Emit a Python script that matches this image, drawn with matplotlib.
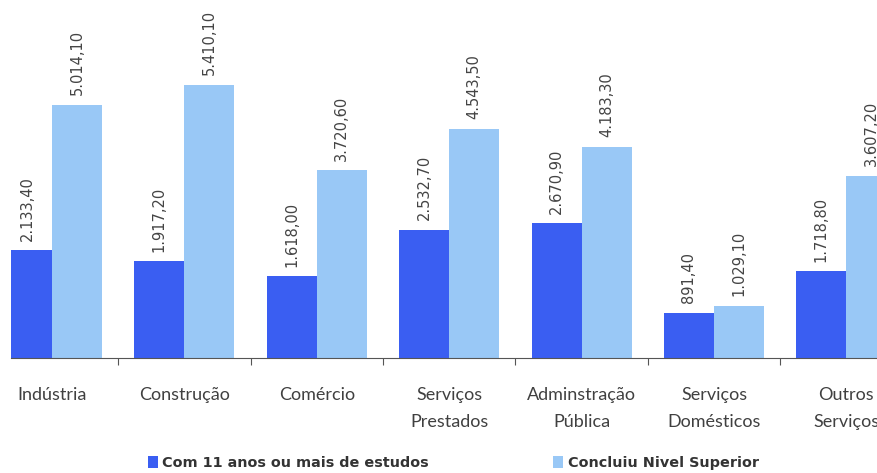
import numpy as np
import matplotlib.pyplot as plt

plt.rcParams['font.family'] = ['Lato', 'DejaVu Sans']

setores = ['Indústria', 'Construção', 'Comércio', 'Serviços\nPrestados',
           'Adminstração\nPública', 'Serviços\nDomésticos', 'Outros\nServiços']
com_11_anos = [2133.4, 1917.2, 1618.0, 2532.7, 2670.9, 891.4, 1718.8]
nivel_superior = [5014.1, 5410.1, 3720.6, 4543.5, 4183.3, 1029.1, 3607.2]
series_nomes = ['Com 11 anos ou mais de estudos', 'Concluiu Nivel Superior']

cor_escura = '#3a5ef2'
cor_clara = '#99c8f6'


def fmt_br(v):
    s = '{:,.2f}'.format(v)
    return s.replace(',', 'X').replace('.', ',').replace('X', '.')


fig = plt.figure(figsize=(8.77, 4.73), dpi=100)
ax = fig.add_axes([11 / 877, 1 - 358 / 473, 866 / 877, 358 / 473])

x = np.arange(len(setores))
w = 0.378
b1 = ax.bar(x - w / 2, com_11_anos, w, color=cor_escura, label=series_nomes[0])
b2 = ax.bar(x + w / 2, nivel_superior, w, color=cor_clara, label=series_nomes[1])

for bars, vals in ((b1, com_11_anos), (b2, nivel_superior)):
    for r, v in zip(bars, vals):
        ax.annotate(fmt_br(v), (r.get_x() + r.get_width() / 2, v),
                    xytext=(0, 7), textcoords='offset points',
                    rotation=90, ha='center', va='bottom',
                    fontsize=10.5, color='#444444', family='DejaVu Sans')

for s in ('top', 'right', 'left'):
    ax.spines[s].set_visible(False)
ax.spines['bottom'].set_color('#555555')
ax.set_yticks([])

ax.set_xticks(x + 0.5, minor=False)
ax.set_xticklabels([])
ax.tick_params(axis='x', which='major', length=5, color='#555555', direction='out')
ax.set_xticks(x, minor=True)
ax.set_xticklabels(setores, minor=True, fontsize=13, color='#404040', linespacing=1.85)
ax.tick_params(axis='x', which='minor', length=0, pad=21)
for lbl in ax.get_xticklabels(minor=True):
    lbl.set_va('top')

ax.set_xlim(-0.31, 6.231)
ax.set_ylim(0, 7095)

fig.legend(loc='center', bbox_to_anchor=(0.517, 1 - 463 / 473), ncol=2,
           frameon=False, handlelength=0.7, handleheight=0.9,
           handletextpad=0.3, columnspacing=8.6,
           prop={'family': 'DejaVu Sans', 'weight': 'bold', 'size': 10.4})
for t in fig.legends[0].get_texts():
    t.set_color('#333333')

fig.savefig('out.png', dpi=100)
